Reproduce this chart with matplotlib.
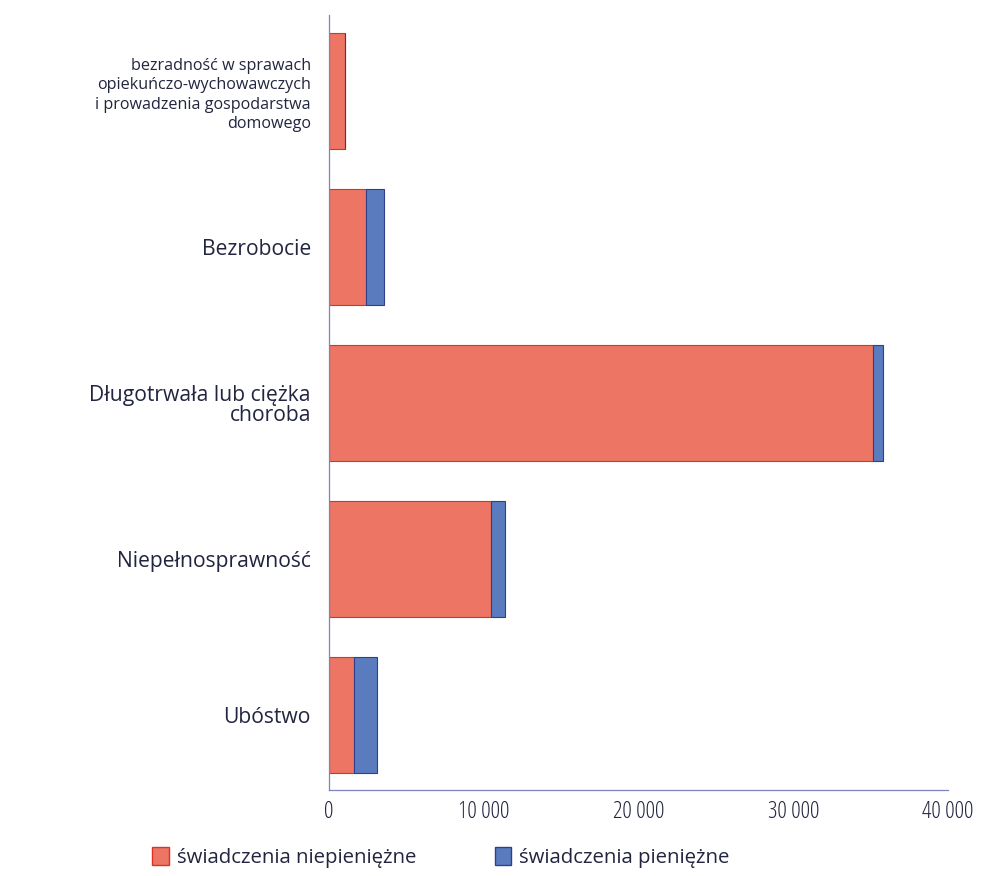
import matplotlib
matplotlib.use('Agg')
from matplotlib import pyplot as plt
from matplotlib.patches import Patch

# Data
categories = [
    'bezradność w sprawach\nopiekuńczo-wychowawczych\ni prowadzenia gospodarstwa\ndomowego',
    'Bezrobocie',
    'Długotrwała lub ciężka\nchoroba',
    'Niepełnosprawność',
    'Ubóstwo',
]
niepieniezne = [1050, 2400, 35150, 10450, 1600]
pieniezne = [0, 1150, 650, 950, 1500]
series_names = ['świadczenia niepieniężne', 'świadczenia pieniężne']
xticks = [0, 10000, 20000, 30000, 40000]
xtick_labels = ['0', '10 000', '20 000', '30 000', '40 000']

red = '#EC7563'
red_edge = '#E0302A'
blue = '#5A7CBF'
blue_edge = '#2E3F8E'
text_col = '#22253F'

plt.rcParams['font.family'] = ['Open Sans', 'DejaVu Sans']

fig = plt.figure(figsize=(9.86, 8.76), dpi=100)
ax = fig.add_axes([0.3337, 0.0982, 0.6278, 0.885])

ypos = list(range(len(categories)))
ax.barh(ypos, niepieniezne, height=0.74, color=red, edgecolor=red_edge, linewidth=0.8)
ax.barh(ypos, pieniezne, left=niepieniezne, height=0.74, color=blue,
        edgecolor=blue_edge, linewidth=0.8)

ax.set_ylim(len(categories) - 0.52, -0.49)
ax.set_xlim(0, 40000)
ax.set_yticks(ypos)
ax.set_yticklabels(categories, fontsize=15.2, color=text_col, multialignment='right',
                   linespacing=0.95)
# the long first label is set smaller (and looser) in the original
first = ax.get_yticklabels()[0]
first.set_fontsize(11.6)
first.set_linespacing(1.3)
ax.set_xticks(xticks)
ax.set_xticklabels(xtick_labels, fontsize=17, color=text_col, fontstretch='condensed')
ax.tick_params(axis='y', length=0, pad=13)
ax.tick_params(axis='x', length=0, pad=7)

for side in ['top', 'right']:
    ax.spines[side].set_visible(False)
for side in ['left', 'bottom']:
    ax.spines[side].set_color('#7B82C4')
    ax.spines[side].set_linewidth(0.9)

handles = [Patch(facecolor=red, edgecolor=red_edge), Patch(facecolor=blue, edgecolor=blue_edge)]
fig.legend(handles, series_names, loc='center left', bbox_to_anchor=(0.136, 0.021),
           ncol=2, frameon=False, fontsize=14.7, handlelength=0.8, handleheight=1.0,
           handletextpad=0.4, columnspacing=3.85, labelcolor=text_col)

fig.savefig('out.png', dpi=100)
